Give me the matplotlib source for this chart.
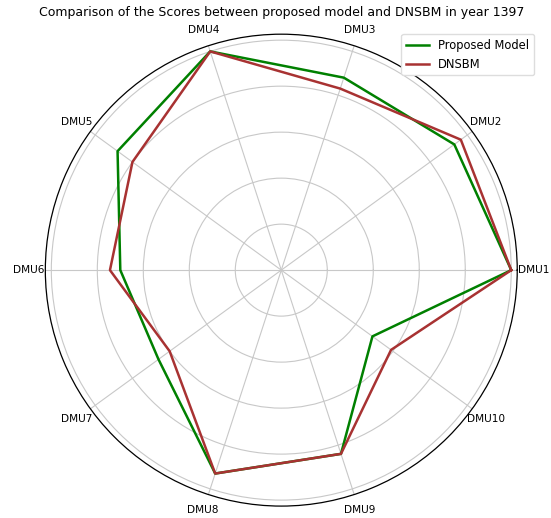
import numpy as np
import matplotlib
matplotlib.use('Agg')
import matplotlib.pyplot as plt

# DMU labels and efficiency scores for year 1397
labels = ['DMU1', 'DMU2', 'DMU3', 'DMU4', 'DMU5', 'DMU6', 'DMU7', 'DMU8', 'DMU9', 'DMU10']
proposed = [1.0, 0.93, 0.88, 1.0, 0.88, 0.70, 0.66, 0.93, 0.84, 0.49]
dnsbm = [1.0, 0.965, 0.83, 1.0, 0.80, 0.745, 0.60, 0.93, 0.84, 0.59]

# Angles for each axis, closing the loop back to the first point
angles = np.linspace(0, 2 * np.pi, len(labels), endpoint=False).tolist()
angles_closed = angles + angles[:1]
proposed_closed = proposed + proposed[:1]
dnsbm_closed = dnsbm + dnsbm[:1]

fig = plt.figure(figsize=(5.51, 5.18), dpi=100)
ax = fig.add_axes([0.082, 0.023, 0.857, 0.911], polar=True)

ax.plot(angles_closed, proposed_closed, color='green', linewidth=1.8, label='Proposed Model')
ax.plot(angles_closed, dnsbm_closed, color='#a83232', linewidth=1.8, label='DNSBM')

ax.set_ylim(0, 1.026)
ax.set_yticks([0.2, 0.4, 0.6, 0.8, 1.0])
ax.set_yticklabels([])
ax.set_xticks(angles)
ax.set_xticklabels(labels, fontsize=7.6)
ax.tick_params(axis='x', pad=1.5)
ax.grid(color='#c8c8c8', linewidth=0.8)
ax.spines['polar'].set_linewidth(0.9)

ax.set_title('Comparison of the Scores between proposed model and DNSBM in year 1397',
             fontsize=9, pad=13)
ax.legend(loc='upper right', bbox_to_anchor=(0.969, 0.934), bbox_transform=fig.transFigure,
          borderaxespad=0, fontsize=8.3, framealpha=1.0, edgecolor='#dddddd')

plt.savefig('out.png', dpi=100)
